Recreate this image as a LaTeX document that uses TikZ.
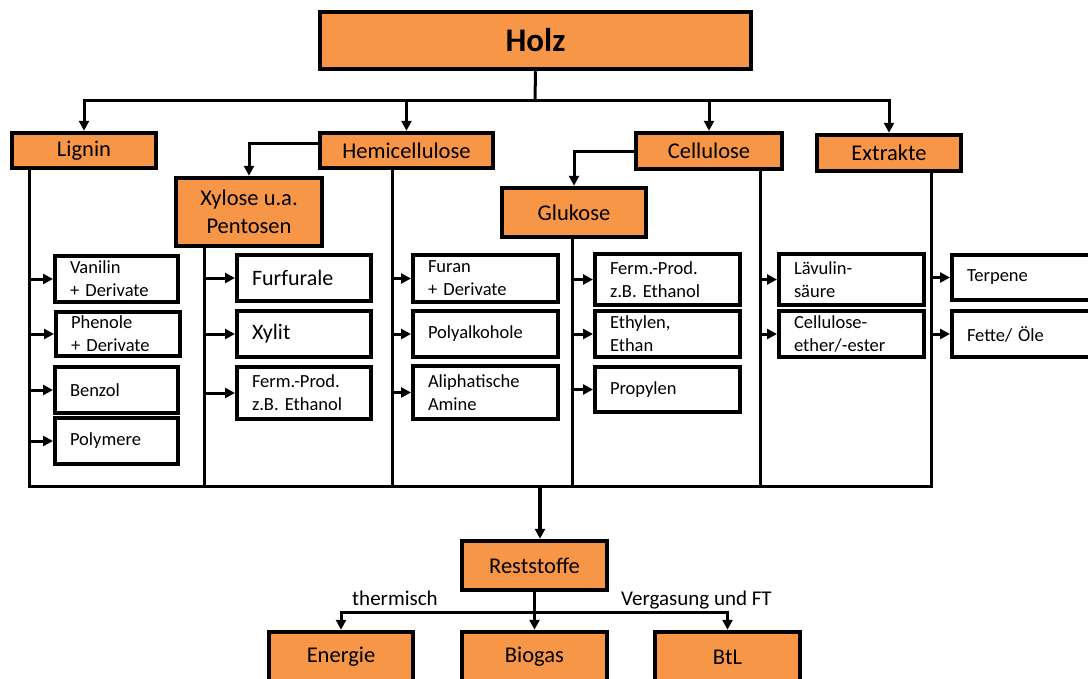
\documentclass[tikz,border=0pt]{standalone}
\usepackage{fontspec}
\setmainfont{Carlito}
\usetikzlibrary{arrows.meta,calc}
\definecolor{boxorange}{RGB}{247,150,70}
\newcommand\ob[7][]{%
 \pgfmathsetmacro\Bw{#5-#3}\pgfmathsetmacro\Bh{#6-#4}%
 \pgfmathsetmacro\Bx{(#3+#5)/2}\pgfmathsetmacro\By{(#4+#6)/2}%
 \node[obox,minimum width=\Bw pt,minimum height=\Bh pt,#1] (#2) at (\Bx,\By) {#7};}
\newcommand\wb[7][]{%
 \pgfmathsetmacro\Bw{#5-#3}\pgfmathsetmacro\Bh{#6-#4}%
 \pgfmathsetmacro\Bx{(#3+#5)/2}\pgfmathsetmacro\By{(#4+#6)/2}%
 \pgfmathsetmacro\Tw{#5-#3-30}%
 \node[wbox,minimum width=\Bw pt,minimum height=\Bh pt,text width=\Tw pt,#1] (#2) at (\Bx,\By) {#7};}
\begin{document}
\begin{tikzpicture}[x=1pt,y=-1pt,
 obox/.style={draw=black,fill=boxorange,line width=4.5pt,inner sep=0pt,font=\fontsize{22.5}{28}\selectfont,align=center},
 wbox/.style={draw=black,fill=white,line width=4pt,inner xsep=15pt,inner ysep=0pt,align=left,font=\fontsize{18.5}{23}\selectfont},
 big/.style={font=\fontsize{22}{26}\selectfont},
 conn/.style={line width=3pt},
 arr/.style={conn,-{Triangle[length=10pt,width=10pt]}},
 lbl/.style={font=\fontsize{21}{25}\selectfont,inner sep=0pt}
]
\useasboundingbox[fill=white] (0,0) rectangle (1088,678);

% orange boxes
\ob[font=\fontsize{33}{38}\selectfont\bfseries]{holz}{320}{12}{751}{69}{Holz}
\ob{lignin}{12}{133}{156}{168}{Lignin}
\ob{hemi}{320}{133}{493}{168}{Hemicellulose}
\ob{cell}{636}{133}{782}{169}{Cellulose}
\ob{extr}{817}{135}{961}{171}{Extrakte}
\ob{xyl}{176}{178}{322}{246}{Xylose u.a.\\Pentosen}
\ob{gluk}{502}{188}{646}{237}{Glukose}
\ob{rest}{462}{541}{607}{590}{Reststoffe}
\ob{energie}{269}{632}{413}{682}{Energie}
\ob{biogas}{462}{632}{607}{682}{Biogas}
\ob{btl}{655}{632}{800}{682}{BtL}

% white boxes
\wb{vanilin}{55}{256}{178}{302}{Vanilin\\+ Derivate}
\wb{phenole}{56}{312}{180}{356}{Phenole\\+ Derivate}
\wb{benzol}{55}{367}{178}{413}{Benzol}
\wb{polymere}{55}{418}{178}{464}{Polymere}
\wb[big]{furfurale}{237}{255}{371}{301}{Furfurale}
\wb[big]{xylit}{237}{311}{371}{357}{Xylit}
\wb{fermx}{237}{367}{371}{419}{Ferm.-Prod.\\z.B. Ethanol}
\wb{furan}{413}{255}{558}{302}{Furan\\+ Derivate}
\wb{polyalk}{413}{311}{558}{357}{Polyalkohole}
\wb{amine}{413}{366}{558}{419}{Aliphatische\\Amine}
\wb{fermg}{595}{254}{740}{305}{Ferm.-Prod.\\z.B. Ethanol}
\wb{ethylen}{595}{311}{740}{357}{Ethylen,\\Ethan}
\wb{propylen}{595}{367}{740}{412}{Propylen}
\wb{laevulin}{779}{254}{924}{305}{Lävulin-\\säure}
\wb{celether}{779}{311}{924}{357}{Cellulose-\\ether/-ester}
\wb{terpene}{952}{255}{1110}{300}{Terpene}
\wb{fette}{952}{311}{1110}{357}{Fette/\hspace{6pt}Öle}

% top distribution
\coordinate (hub) at (535,100);
\draw[conn] (holz.south) -- (hub);
\draw[arr] (hub) -| (lignin.north);
\draw[arr] (hub) -| (hemi.north);
\draw[arr] (hub) -| (cell.north);
\draw[arr] (hub) -| (extr.north);
\draw[arr] ($(hemi.west)+(0,-7.5)$) -| (xyl.north);
\draw[arr] (cell.west) -| (gluk.north);

% column lines
\coordinate (cL) at (29,486);
\coordinate (cX) at (204,486);
\coordinate (cH) at (392,486);
\coordinate (cG) at (572,486);
\coordinate (cC) at (760,486);
\coordinate (cE) at (931,486);
\draw[conn] (lignin.south -| cL) -- (cL) -- (cE) -- (extr.south -| cE);
\draw[conn] (xyl.south -| cX) -- (cX);
\draw[conn] (hemi.south -| cH) -- (cH);
\draw[conn] (gluk.south -| cG) -- (cG);
\draw[conn] (cell.south -| cC) -- (cC);

% column arrows
\foreach \n in {vanilin,phenole,benzol,polymere} \draw[arr] (\n.west -| cL) -- (\n.west);
\foreach \n in {furfurale,xylit,fermx} \draw[arr] (\n.west -| cX) -- (\n.west);
\foreach \n in {furan,polyalk,amine} \draw[arr] (\n.west -| cH) -- (\n.west);
\foreach \n in {fermg,ethylen,propylen} \draw[arr] (\n.west -| cG) -- (\n.west);
\foreach \n in {laevulin,celether} \draw[arr] (\n.west -| cC) -- (\n.west);
\foreach \n in {terpene,fette} \draw[arr] (\n.west -| cE) -- (\n.west);

% to Reststoffe
\coordinate (rin) at (540,486);
\draw[arr,line width=4pt] (rin) -- (rin |- rest.north);
\coordinate (split) at (534.5,612);
\draw[conn] (rest.south) -- (split);
\draw[arr] (split) -| (energie.north);
\draw[arr] (split) -- (biogas.north);
\draw[arr] (split) -| (btl.north);
\node[lbl,anchor=base west] (lthermisch) at (352,605) {thermisch};
\node[lbl,anchor=base west] (lvergasung) at (621,605) {Vergasung und FT};
\end{tikzpicture}
\end{document}
